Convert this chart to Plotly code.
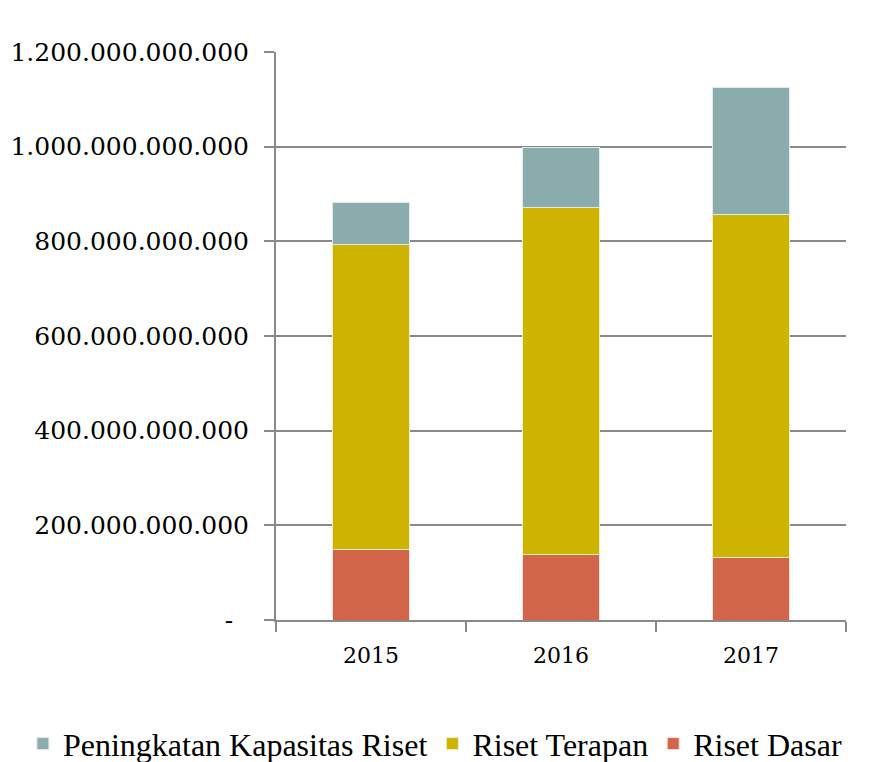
import plotly.graph_objects as go

years = ["2015", "2016", "2017"]
riset_dasar = [150e9, 139e9, 133e9]
riset_terapan = [644e9, 733e9, 723e9]
kapasitas = [89e9, 127e9, 270e9]

tick_vals = [0, 200e9, 400e9, 600e9, 800e9, 1000e9, 1200e9]
tick_text = ["-\u00a0\u00a0", "200.000.000.000", "400.000.000.000", "600.000.000.000",
             "800.000.000.000", "1.000.000.000.000", "1.200.000.000.000"]

font_family = "DejaVu Serif"

fig = go.Figure()
fig.add_trace(go.Bar(x=years, y=riset_dasar, name="Riset Dasar",
                     marker=dict(color="#D2644A", line=dict(color="#F2E4DE", width=1))))
fig.add_trace(go.Bar(x=years, y=riset_terapan, name="Riset Terapan",
                     marker=dict(color="#CDB400", line=dict(color="#F2EDCC", width=1))))
fig.add_trace(go.Bar(x=years, y=kapasitas, name="Peningkatan Kapasitas Riset",
                     marker=dict(color="#8AACAC", line=dict(color="#E0EAEA", width=1))))

fig.update_layout(
    barmode="stack",
    bargap=0.595,
    width=879, height=754,
    margin=dict(l=268, r=41, t=44, b=142, autoexpand=False),
    plot_bgcolor="white", paper_bgcolor="white",
    font=dict(family=font_family, color="black", size=22),
    legend=dict(orientation="h",
                x=-0.444, xanchor="left", y=-0.218, yanchor="middle",
                traceorder="reversed", font=dict(family="Liberation Serif", size=32),
                itemwidth=30, tracegroupgap=0),
    xaxis=dict(showline=True, linecolor="#898989", linewidth=2,
               ticks="outside", tickson="boundaries", ticklen=10, tickcolor="#898989",
               tickwidth=2, showgrid=False, tickfont=dict(size=22), ticklabelstandoff=15),
    yaxis=dict(range=[0, 1200e9], tickvals=tick_vals, ticktext=tick_text,
               showline=True, linecolor="#898989", linewidth=2,
               ticks="outside", ticklen=10, tickcolor="#898989", tickwidth=2,
               showgrid=True, gridcolor="#898989", gridwidth=2,
               zeroline=False, tickfont=dict(size=25), ticklabelstandoff=10,
               automargin=False),
)

fig.write_html("out.html")
